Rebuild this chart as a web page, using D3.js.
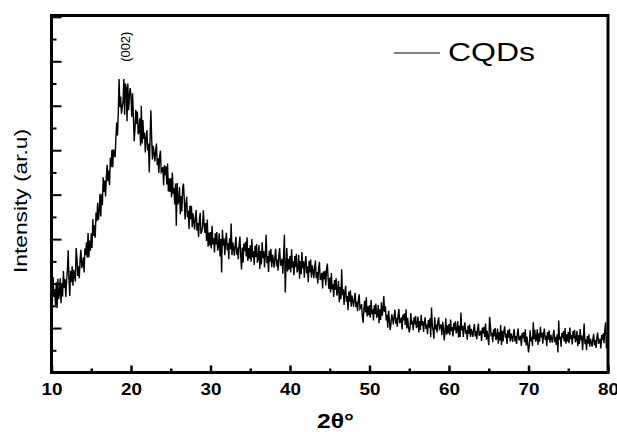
<!DOCTYPE html>
<html>
<head>
<meta charset="utf-8">
<script src="https://cdn.jsdelivr.net/npm/d3@7"></script>
<style>
  html, body { margin: 0; padding: 0; background: #fff; }
  svg { display: block; }
  text { font-family: Arial, "Liberation Sans", sans-serif; fill: #000; }
</style>
</head>
<body>
<svg id="chart" width="617" height="432"></svg>
<script>
// ---- data ----
const seriesName = "CQDs";
const peakLabel = "(002)";
const xTitle = "2θ°";
const yTitle = "Intensity (ar.u)";
const twoThetaStart = 10;   // degrees
const twoThetaStep = 0.1;   // degrees per sample
// intensity (counts, a.u.), one row per degree from 10° to 80°
const intensity = [
  196,156,215,170,187,152,203,145,211,165,
  177,212,156,201,171,228,190,210,170,207,
  230,275,209,172,229,203,239,195,231,219,
  205,280,258,217,239,212,255,276,235,244,
  259,225,279,264,293,259,314,259,297,274,
  313,280,345,307,331,303,360,340,382,343,
  361,402,351,401,376,439,406,432,396,439,
  467,430,454,422,483,462,501,462,502,494,
  484,527,562,533,585,660,597,621,582,595,
  610,660,580,650,640,565,650,590,622,640,
  621,575,628,577,520,547,591,559,587,536,
  541,572,510,600,515,568,525,540,495,527,
  545,499,515,450,526,590,527,479,510,494,
  475,499,515,467,482,449,485,499,451,454,
  462,421,466,444,464,423,470,407,437,406,
  437,394,450,402,415,378,425,330,426,378,
  386,417,356,397,362,416,425,389,344,377,
  395,349,364,323,375,345,375,327,358,341,
  322,348,366,319,336,305,343,359,312,317,
  327,365,334,314,336,296,344,283,315,286,
  316,279,330,288,302,270,313,288,316,274,
  283,313,261,300,225,321,285,302,264,296,
  314,275,291,255,302,277,335,264,293,280,
  263,287,305,265,281,255,289,306,265,232,
  281,247,290,273,294,261,304,251,280,256,
  286,249,300,259,273,242,285,260,289,247,
  256,286,233,273,243,293,257,273,236,267,
  310,246,262,226,274,249,278,237,265,253,
  236,261,278,239,254,229,264,280,240,245,
  256,222,266,310,180,236,280,227,256,232,
  262,225,277,236,250,219,262,237,267,225,
  234,264,211,251,221,271,234,251,213,245,
  262,223,239,203,251,225,254,213,241,229,
  212,236,252,212,226,200,234,249,208,212,
  224,189,227,210,229,196,234,245,210,188,
  213,180,224,187,199,170,208,186,212,173,
  181,206,158,192,165,232,174,188,152,181,
  195,159,172,140,182,159,185,148,173,161,
  148,167,179,147,159,138,164,176,143,146,
  154,126,112,145,161,135,169,126,149,129,
  151,123,163,131,142,117,151,132,155,123,
  129,152,111,142,118,158,128,140,172,136,
  149,117,130,101,139,118,96,109,131,121,
  108,128,141,110,123,103,130,143,111,115,
  124,97,130,117,133,107,142,99,123,103,
  90,100,134,108,116,95,124,108,127,100,
  105,126,90,116,96,130,106,116,91,112,
  124,98,108,86,118,101,122,80,146,106,
  96,76,124,97,108,90,114,124,98,101,
  108,84,114,101,72,92,122,85,106,88,
  109,84,119,93,102,81,111,95,115,88,
  94,115,79,105,80,135,95,105,80,101,
  113,87,96,73,105,87,108,80,98,90,
  80,97,109,81,93,75,99,110,83,87,
  94,71,101,88,103,80,110,74,94,77,
  62,125,107,81,89,68,97,81,100,73,
  78,99,65,91,72,107,62,94,70,92,
  104,78,87,64,95,78,98,70,88,80,
  69,86,98,70,82,64,88,99,72,76,
  83,60,89,77,91,68,97,61,81,64,
  45,60,95,70,80,60,113,75,96,69,
  76,97,62,88,69,103,79,90,65,87,
  99,73,83,59,91,74,95,67,85,77,
  67,84,96,68,80,62,86,45,117,74,
  81,58,89,77,93,70,100,65,86,70,
  91,66,101,75,84,63,93,77,96,68,
  74,94,59,84,64,98,73,83,50,79,
  110,64,74,50,82,65,86,58,76,68,
  58,75,87,61,73,55,79,90,65,69,
  76,54,84,73,88,66,96,113,54,66,
  77
];
const xMajorTicks = [10, 20, 30, 40, 50, 60, 70, 80];
const xMinorTicks = [15, 25, 35, 45, 55, 65, 75];
const yMajorTicks = [0, 100, 200, 300, 400, 500, 600, 700, 800];
const yMinorTicks = [50, 150, 250, 350, 450, 550, 650, 750];
const xDomain = [10, 80];
const yDomain = [0, 803];
const peakPosition = 19.1;

// ---- layout ----
const L = 51.5, R = 608, T = 15.5, B = 372.5;
const svg = d3.select("#chart");
const x = d3.scaleLinear().domain(xDomain).range([L, R]);
const y = d3.scaleLinear().domain(yDomain).range([B, T]);

const points = intensity.map((v, i) => [twoThetaStart + i * twoThetaStep, v]);

// line
svg.append("path")
  .datum(points)
  .attr("fill", "none")
  .attr("stroke", "#000")
  .attr("stroke-width", 1.4)
  .attr("d", d3.line().x(d => x(d[0])).y(d => y(d[1])));

// axes ticks
function styleAxis(g, w) {
  g.select(".domain").remove();
  g.selectAll(".tick line").attr("stroke", "#000").attr("stroke-width", w);
}
const xMajG = svg.append("g").attr("transform", `translate(0,${B})`)
  .call(d3.axisBottom(x).tickValues(xMajorTicks).tickSize(-7).tickFormat(d3.format("d")));
styleAxis(xMajG, 2.5);
xMajG.selectAll(".tick text")
  .attr("y", 22.5).attr("dy", null)
  .attr("font-size", 17).attr("font-weight", "bold")
  .attr("font-family", 'Arial, "Liberation Sans", sans-serif')
  .attr("textLength", 21).attr("lengthAdjust", "spacingAndGlyphs")
  .attr("fill", "#000");

const xMinG = svg.append("g").attr("transform", `translate(0,${B})`)
  .call(d3.axisBottom(x).tickValues(xMinorTicks).tickSize(-4).tickFormat(""));
styleAxis(xMinG, 2.5);

const yMajG = svg.append("g").attr("transform", `translate(${L},0)`)
  .call(d3.axisLeft(y).tickValues(yMajorTicks).tickSize(-10).tickFormat(""));
styleAxis(yMajG, 2);
const yMinG = svg.append("g").attr("transform", `translate(${L},0)`)
  .call(d3.axisLeft(y).tickValues(yMinorTicks).tickSize(-5).tickFormat(""));
styleAxis(yMinG, 2);

// frame
svg.append("rect")
  .attr("x", L).attr("y", T).attr("width", R - L).attr("height", B - T)
  .attr("fill", "none").attr("stroke", "#000").attr("stroke-width", 3);

// axis titles
svg.append("text")
  .attr("x", 317).attr("y", 428)
  .attr("font-size", 20).attr("font-weight", "bold")
  .attr("textLength", 37).attr("lengthAdjust", "spacingAndGlyphs")
  .text(xTitle);

svg.append("text")
  .attr("transform", "translate(27,201) rotate(-90)")
  .attr("text-anchor", "middle")
  .attr("font-size", 18.5)
  .attr("textLength", 144).attr("lengthAdjust", "spacingAndGlyphs")
  .text(yTitle);

// peak annotation
svg.append("text")
  .attr("transform", `translate(${x(peakPosition) + 6.5},46.7) rotate(-90)`)
  .attr("text-anchor", "middle")
  .attr("font-size", 13)
  .attr("textLength", 30).attr("lengthAdjust", "spacingAndGlyphs")
  .text(peakLabel);

// legend
svg.append("line")
  .attr("x1", 394).attr("x2", 440).attr("y1", 53).attr("y2", 53)
  .attr("stroke", "#000").attr("stroke-width", 1);
svg.append("text")
  .attr("x", 448).attr("y", 60.5)
  .attr("font-size", 26)
  .attr("textLength", 87).attr("lengthAdjust", "spacingAndGlyphs")
  .text(seriesName);
</script>
</body>
</html>
